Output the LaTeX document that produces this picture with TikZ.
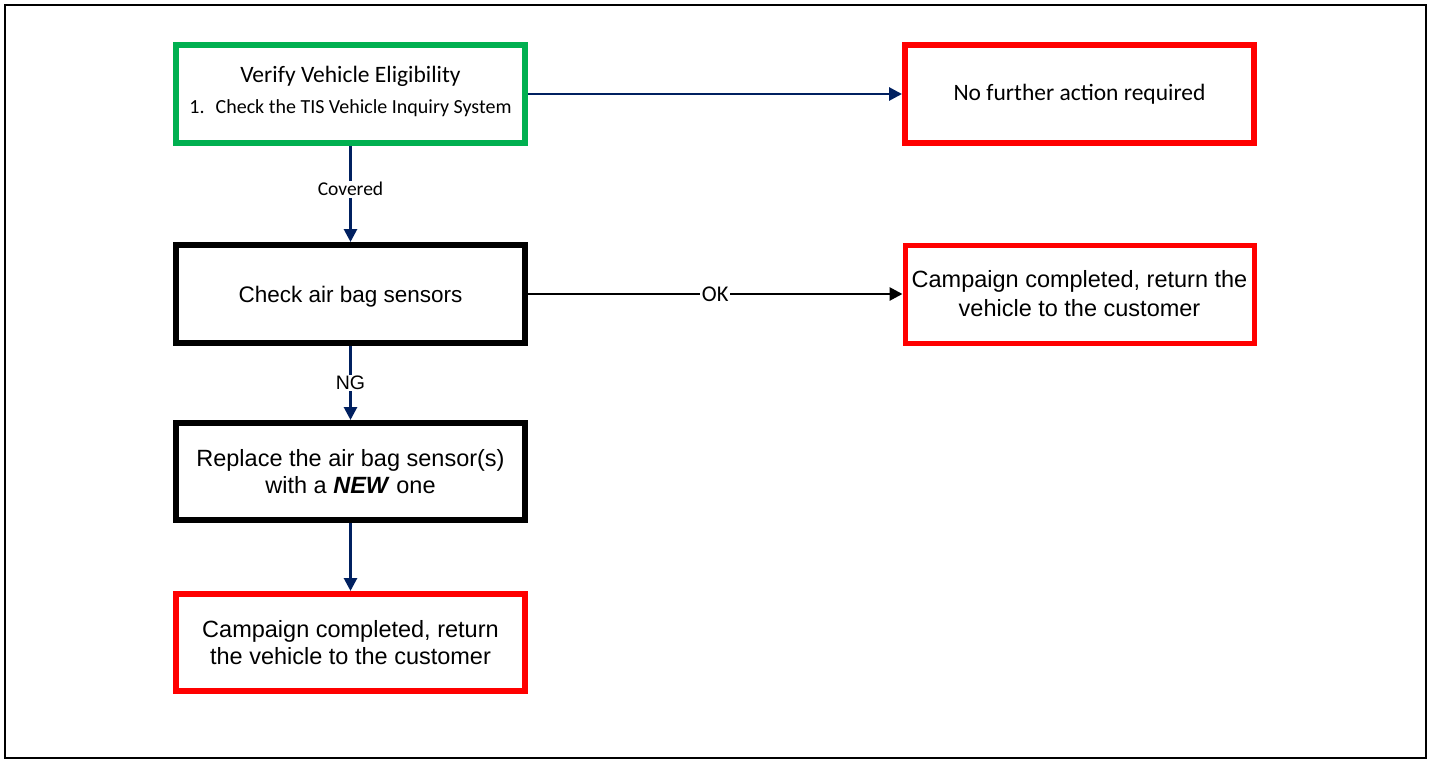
\documentclass[tikz,border=0pt]{standalone}
\usepackage{fontspec}
\newfontfamily\calfont{Carlito}
\newfontfamily\arifont{Liberation Sans}
\usetikzlibrary{arrows.meta}
\definecolor{boxgreen}{RGB}{0,176,80}
\definecolor{boxred}{RGB}{255,0,0}
\definecolor{navy}{RGB}{0,32,96}
\tikzset{
  flowbox/.style={draw, rectangle, line width=6pt, fill=white, minimum width=349pt, minimum height=98pt, inner sep=0pt, align=center},
  greenbox/.style={flowbox, draw=boxgreen},
  redbox/.style={flowbox, draw=boxred},
  blackbox/.style={flowbox, draw=black},
  arialtext/.style={font=\arifont\fontsize{23.5}{27.5}\selectfont},
  navyarrow/.style={draw=navy, line width=2.8pt, -{Triangle[length=13pt,width=13pt]}},
  blackarrow/.style={draw=black, line width=2.8pt, -{Triangle[length=13pt,width=13pt]}},
  edgelabel/.style={fill=white, inner sep=1.5pt, text=black}
}
\begin{document}
\begin{tikzpicture}[x=1pt,y=-1pt]
\useasboundingbox (0,0) rectangle (1433,760);
\fill[white] (0,0) rectangle (1433,760);
\draw[line width=2pt] (5,5) rectangle (1426,758);

\node[greenbox, font=\calfont\fontsize{23.5}{28}\selectfont] (verify) at (350.5,94) {Verify Vehicle Eligibility\\[3pt]\fontsize{20}{24}\selectfont 1.\hspace{11pt}Check the TIS Vehicle Inquiry System\rule[-9pt]{0pt}{9pt}};
\node[redbox, font=\calfont\fontsize{23.5}{28}\selectfont] (nofurther) at (1079.5,94) {No further action required};
\node[blackbox, font=\arifont\fontsize{22.5}{27.5}\selectfont] (check) at (350.5,294) {\rule{0pt}{22pt}Check air bag sensors};
\node[redbox, line width=5pt, arialtext] (doneright) at (1079.5,294) {Campaign completed, return the\\[1.5pt]vehicle to the customer};
\node[blackbox, minimum height=97pt, arialtext] (replace) at (350.5,471.5) {Replace the air bag sensor(s)\\with a \textbf{\textit{NEW}} one};
\node[redbox, minimum height=97pt, arialtext] (donebottom) at (350.5,642.5) {Campaign completed, return\\the vehicle to the customer};

\draw[navyarrow] (verify.east) -- (nofurther.west);
\draw[navyarrow] (verify.south) -- node[edgelabel, pos=0.45, font=\calfont\fontsize{19.5}{22}\selectfont] (covered) {Covered} (check.north);
\draw[blackarrow] (check.east) -- node[edgelabel, pos=0.5, font=\calfont\fontsize{22.5}{24}\selectfont] (ok) {OK} (doneright.west);
\draw[navyarrow] (check.south) -- node[edgelabel, pos=0.5, font=\arifont\fontsize{19.5}{22}\selectfont] (ng) {NG} (replace.north);
\draw[navyarrow] (replace.south) -- (donebottom.north);
\end{tikzpicture}
\end{document}
